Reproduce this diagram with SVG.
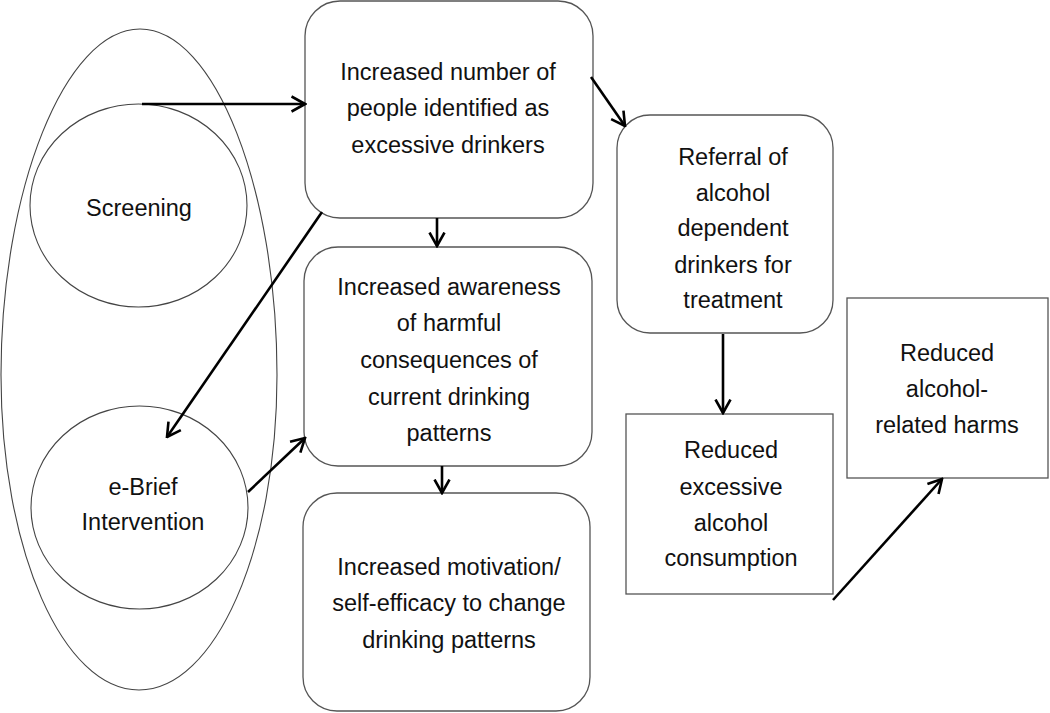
<svg xmlns="http://www.w3.org/2000/svg" width="1050" height="713" viewBox="0 0 1050 713">
<style>
.shape{fill:#fff;stroke:#555;stroke-width:1.3}
.thin{fill:none;stroke:#444;stroke-width:1.1}
.t{font-family:"Liberation Sans",Arial,sans-serif;font-size:23.5px;fill:#111;text-anchor:middle}
.c{fill:none;stroke:#000;stroke-width:2.6;marker-end:url(#ah)}
</style>
<defs>
<marker id="ah" viewBox="0 0 16 18" refX="14.5" refY="9" markerWidth="16" markerHeight="18" markerUnits="userSpaceOnUse" orient="auto">
<path d="M1,1.5 L14.5,9 L1,16.5" fill="none" stroke="#000" stroke-width="2.6"/>
</marker>
</defs>
<rect width="1050" height="713" fill="#fff"/>
<g id="outer"><path class="thin" d="M140,29 C215,29 277,190 277,375 C277,550 215,690 139,690 C63,690 1,550 1,375 C1,190 65,29 140,29 Z"/></g>
<g id="screening"><ellipse class="thin" cx="138.5" cy="205.5" rx="108.5" ry="101.5"/>
<text class="t" x="139" y="216">Screening</text></g>
<g id="ebrief"><ellipse class="thin" cx="139.5" cy="507.5" rx="108.5" ry="101.5"/>
<text class="t" x="143" y="495">e-Brief</text><text class="t" x="143" y="530">Intervention</text></g>
<g id="identified"><rect class="shape" x="305" y="1" width="288" height="217" rx="35"/>
<text class="t" x="448" y="80">Increased number of</text><text class="t" x="448" y="116">people identified as</text><text class="t" x="448" y="153">excessive drinkers</text></g>
<g id="awareness"><rect class="shape" x="304" y="247" width="288" height="219" rx="34"/>
<text class="t" x="449" y="295">Increased awareness</text><text class="t" x="449" y="331">of harmful</text><text class="t" x="449" y="368">consequences of</text><text class="t" x="449" y="405">current drinking</text><text class="t" x="449" y="441">patterns</text></g>
<g id="motivation"><rect class="shape" x="303" y="493" width="287" height="218" rx="34"/>
<text class="t" x="449" y="575">Increased motivation/</text><text class="t" x="449" y="611">self-efficacy to change</text><text class="t" x="449" y="648">drinking patterns</text></g>
<g id="referral"><rect class="shape" x="617" y="115" width="216" height="218" rx="33"/>
<text class="t" x="733" y="165">Referral of</text><text class="t" x="733" y="201">alcohol</text><text class="t" x="733" y="236">dependent</text><text class="t" x="733" y="273">drinkers for</text><text class="t" x="733" y="308">treatment</text></g>
<g id="reduced-consumption"><rect class="shape" x="626" y="414" width="207" height="180"/>
<text class="t" x="731" y="458">Reduced</text><text class="t" x="731" y="495">excessive</text><text class="t" x="731" y="531">alcohol</text><text class="t" x="731" y="566">consumption</text></g>
<g id="reduced-harms"><rect class="shape" x="847" y="298" width="201" height="180"/>
<text class="t" x="947" y="361">Reduced</text><text class="t" x="947" y="397">alcohol-</text><text class="t" x="947" y="433">related harms</text></g>
<g id="connectors">
<line class="c" x1="142" y1="104" x2="305" y2="104"/>
<line class="c" x1="322" y1="212" x2="167" y2="437"/>
<line class="c" x1="248" y1="492" x2="305" y2="438"/>
<line class="c" x1="437" y1="218" x2="437" y2="246"/>
<line class="c" x1="442" y1="466" x2="442" y2="493"/>
<line class="c" x1="591" y1="77" x2="625" y2="126"/>
<line class="c" x1="723" y1="334" x2="723" y2="413"/>
<line class="c" x1="833" y1="600" x2="942" y2="479"/>
</g>
</svg>
